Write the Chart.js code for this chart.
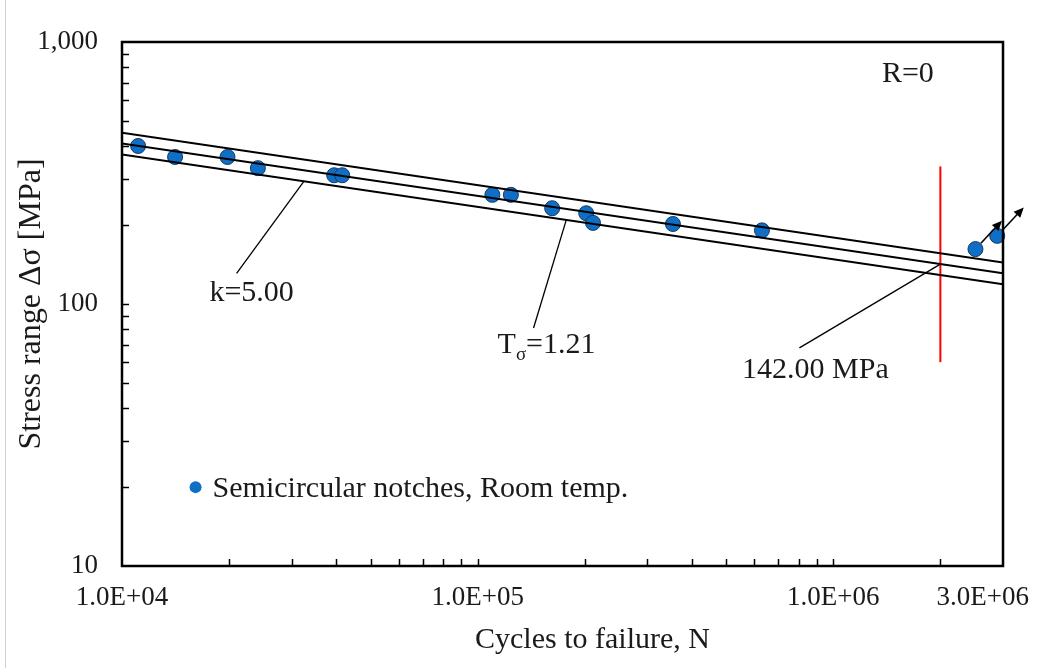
<!DOCTYPE html>
<html>
<head>
<meta charset="utf-8">
<script src="https://cdn.jsdelivr.net/npm/chart.js@4.4.1/dist/chart.umd.min.js"></script>
<style>
  html, body { margin: 0; padding: 0; background: #fff; }
  canvas { display: block; }
</style>
</head>
<body>
<canvas id="snChart" width="1044" height="668"></canvas>
<script>
// test results: cycles to failure / stress range [MPa]
const cycles = [11100, 14100, 19800, 24100, 39500, 41600, 110000, 124000, 162000, 202000, 211000, 354000, 630000, 2510000, 2890000];
const stressRange = [401, 364, 364, 330, 310, 310, 261, 261, 232, 222, 204, 202, 191, 162, 182];
// specimens that did not fail (drawn with an arrow)
const runouts = [13, 14];

// design curve parameters
const slopeK = 5.0;
const stressAt2e6 = 142.0;
const scatterT = 1.21;
const refCycles = 2e6;
const curveRange = [1e4, 3e6];

// red marker at N = 2e6
const cutoffStress = [60, 335];

// axis ticks
const xTickValues = [1e4, 1e5, 1e6, 3e6];
const xTickLabels = ['1.0E+04', '1.0E+05', '1.0E+06', '3.0E+06'];
const yTickValues = [10, 100, 1000];
const yTickLabels = ['10', '100', '1,000'];
const xMinorTicks = [2e4, 3e4, 4e4, 5e4, 6e4, 7e4, 8e4, 9e4, 1e5, 2e5, 3e5, 4e5, 5e5, 6e5, 7e5, 8e5, 9e5, 1e6, 2e6];
const yMinorTicks = [20, 30, 40, 50, 60, 70, 80, 90, 100, 200, 300, 400, 500, 600, 700, 800, 900];

const FONT = "'Liberation Serif', 'Times New Roman', serif";
const POINT_BLUE = '#0f6fc6';

function meanStress(n) {
  return stressAt2e6 * Math.pow(refCycles / n, 1 / slopeK);
}
function bandLine(factor) {
  return curveRange.map(n => ({ x: n, y: meanStress(n) * factor }));
}
const band = Math.sqrt(scatterT);

// leader lines for the annotations
const kLeader = [{ x: 32500, y: meanStress(32500) / band }, { x: 21000, y: 131 }];
const tLeader = [{ x: 177500, y: meanStress(177500) / band }, { x: 143600, y: 81 }];
const fatLeader = [{ x: refCycles, y: stressAt2e6 }, { x: 803000, y: 68 }];

const points = cycles.map((n, i) => ({ x: n, y: stressRange[i] }));

function lineSet(data, color, width) {
  return {
    data: data, showLine: true, borderColor: color, borderWidth: width,
    pointRadius: 0, fill: false, order: 1
  };
}

const decorPlugin = {
  id: 'snDecor',
  afterDatasetsDraw(chart) {
    const { ctx, chartArea: a, scales: { x, y } } = chart;
    ctx.save();

    // image edge line
    ctx.strokeStyle = '#cfcfcf';
    ctx.lineWidth = 1;
    ctx.beginPath();
    ctx.moveTo(5.5, 0);
    ctx.lineTo(5.5, chart.height);
    ctx.stroke();

    // frame
    ctx.strokeStyle = '#000';
    ctx.lineWidth = 2.5;
    ctx.strokeRect(a.left, a.top, a.right - a.left, a.bottom - a.top);

    // inner tick marks
    ctx.lineWidth = 1.5;
    ctx.beginPath();
    xMinorTicks.forEach(v => {
      const px = Math.round(x.getPixelForValue(v)) + 0.5;
      ctx.moveTo(px, a.bottom);
      ctx.lineTo(px, a.bottom - 7);
    });
    yMinorTicks.forEach(v => {
      const py = Math.round(y.getPixelForValue(v)) + 0.5;
      ctx.moveTo(a.left, py);
      ctx.lineTo(a.left + 7, py);
    });
    ctx.stroke();

    // runout arrows
    ctx.strokeStyle = '#000';
    ctx.fillStyle = '#000';
    ctx.lineWidth = 1.6;
    const dx = 0.68, dy = -0.73;
    runouts.forEach(i => {
      const px = x.getPixelForValue(cycles[i]);
      const py = y.getPixelForValue(stressRange[i]);
      const sx = px + dx * 8, sy = py + dy * 8;
      const ex = px + dx * 39, ey = py + dy * 39;
      ctx.beginPath();
      ctx.moveTo(sx, sy);
      ctx.lineTo(ex - dx * 6, ey - dy * 6);
      ctx.stroke();
      const nx = -dy, ny = dx;
      ctx.beginPath();
      ctx.moveTo(ex, ey);
      ctx.lineTo(ex - dx * 10 + nx * 4.5, ey - dy * 10 + ny * 4.5);
      ctx.lineTo(ex - dx * 10 - nx * 4.5, ey - dy * 10 - ny * 4.5);
      ctx.closePath();
      ctx.fill();
    });

    // annotation texts
    ctx.fillStyle = '#1a1a1a';
    ctx.textBaseline = 'alphabetic';
    ctx.font = '30px ' + FONT;

    ctx.textAlign = 'left';
    ctx.fillText('R=0', x.getPixelForValue(1.37e6), a.top + 40);

    ctx.textAlign = 'center';
    const kEnd = { x: x.getPixelForValue(kLeader[1].x), y: y.getPixelForValue(kLeader[1].y) };
    ctx.fillText('k=5.00', kEnd.x + 15, kEnd.y + 28);

    const fEnd = { x: x.getPixelForValue(fatLeader[1].x), y: y.getPixelForValue(fatLeader[1].y) };
    ctx.fillText(stressAt2e6.toFixed(2) + ' MPa', fEnd.x + 16, fEnd.y + 30);

    // T with sigma subscript
    const tEnd = { x: x.getPixelForValue(tLeader[1].x), y: y.getPixelForValue(tLeader[1].y) };
    ctx.textAlign = 'left';
    ctx.font = '30px ' + FONT;
    const wT = ctx.measureText('T').width;
    const wRest = ctx.measureText('=1.21').width;
    ctx.font = '19px ' + FONT;
    const wSub = ctx.measureText('σ').width;
    let tx = tEnd.x + 13 - (wT + wSub + wRest) / 2;
    const ty = tEnd.y + 25;
    ctx.font = '30px ' + FONT;
    ctx.fillText('T', tx, ty);
    tx += wT;
    ctx.font = '19px ' + FONT;
    ctx.fillText('σ', tx, ty + 7);
    tx += wSub;
    ctx.font = '30px ' + FONT;
    ctx.fillText('=1.21', tx, ty);

    // legend
    const lx = x.getPixelForValue(16100), ly = y.getPixelForValue(20);
    ctx.fillStyle = POINT_BLUE;
    ctx.beginPath();
    ctx.arc(lx, ly, 6, 0, Math.PI * 2);
    ctx.fill();
    ctx.fillStyle = '#1a1a1a';
    ctx.textAlign = 'left';
    ctx.fillText('Semicircular notches, Room temp.', lx + 17, ly + 10);

    // axis titles
    ctx.textAlign = 'center';
    ctx.fillText('Cycles to failure, N', (a.left + a.right) / 2 + 30, 648);
    ctx.save();
    ctx.translate(32, (a.top + a.bottom) / 2);
    ctx.rotate(-Math.PI / 2);
    ctx.textBaseline = 'middle';
    ctx.font = '32px ' + FONT;
    ctx.fillText('Stress range Δσ [MPa]', 0, 0);
    ctx.restore();

    ctx.restore();
  }
};

const tickFont = { family: FONT, size: 27 };

new Chart(document.getElementById('snChart'), {
  type: 'scatter',
  data: {
    datasets: [
      lineSet(bandLine(band), '#000', 2),
      lineSet(bandLine(1), '#000', 2),
      lineSet(bandLine(1 / band), '#000', 2),
      lineSet(cutoffStress.map(s => ({ x: refCycles, y: s })), '#ff0000', 2),
      lineSet(kLeader, '#000', 1.3),
      lineSet(tLeader, '#000', 1.3),
      lineSet(fatLeader, '#000', 1.3),
      {
        label: 'Semicircular notches, Room temp.',
        data: points,
        backgroundColor: POINT_BLUE,
        borderColor: '#16385e',
        borderWidth: 1,
        pointRadius: 7.5,
        clip: 12,
        order: 2
      }
    ]
  },
  options: {
    responsive: false,
    animation: false,
    layout: { padding: { top: 42, right: 41, bottom: 0, left: 0 } },
    plugins: {
      legend: { display: false },
      tooltip: { enabled: false }
    },
    scales: {
      x: {
        type: 'logarithmic',
        min: curveRange[0],
        max: curveRange[1],
        afterBuildTicks: s => { s.ticks = xTickValues.map(v => ({ value: v })); },
        afterFit: s => { s.height = 102; s.paddingLeft = 0; s.paddingRight = 0; },
        ticks: {
          callback: v => {
            const i = xTickValues.indexOf(v);
            if (i < 0) return '';
            // keep the last label inside the canvas
            return i === xTickValues.length - 1 ? xTickLabels[i] + '      ' : xTickLabels[i];
          },
          font: tickFont,
          color: '#1a1a1a',
          padding: 16,
          maxRotation: 0,
          autoSkip: false
        },
        grid: { drawOnChartArea: false, drawTicks: false },
        border: { display: false }
      },
      y: {
        type: 'logarithmic',
        min: 10,
        max: 1000,
        afterBuildTicks: s => { s.ticks = yTickValues.map(v => ({ value: v })); },
        afterFit: s => { s.width = 122; s.paddingTop = 0; s.paddingBottom = 0; },
        ticks: {
          callback: v => {
            const i = yTickValues.indexOf(v);
            return i < 0 ? '' : yTickLabels[i];
          },
          font: tickFont,
          color: '#1a1a1a',
          padding: 24,
          autoSkip: false
        },
        grid: { drawOnChartArea: false, drawTicks: false },
        border: { display: false }
      }
    }
  },
  plugins: [decorPlugin]
});
</script>
</body>
</html>
